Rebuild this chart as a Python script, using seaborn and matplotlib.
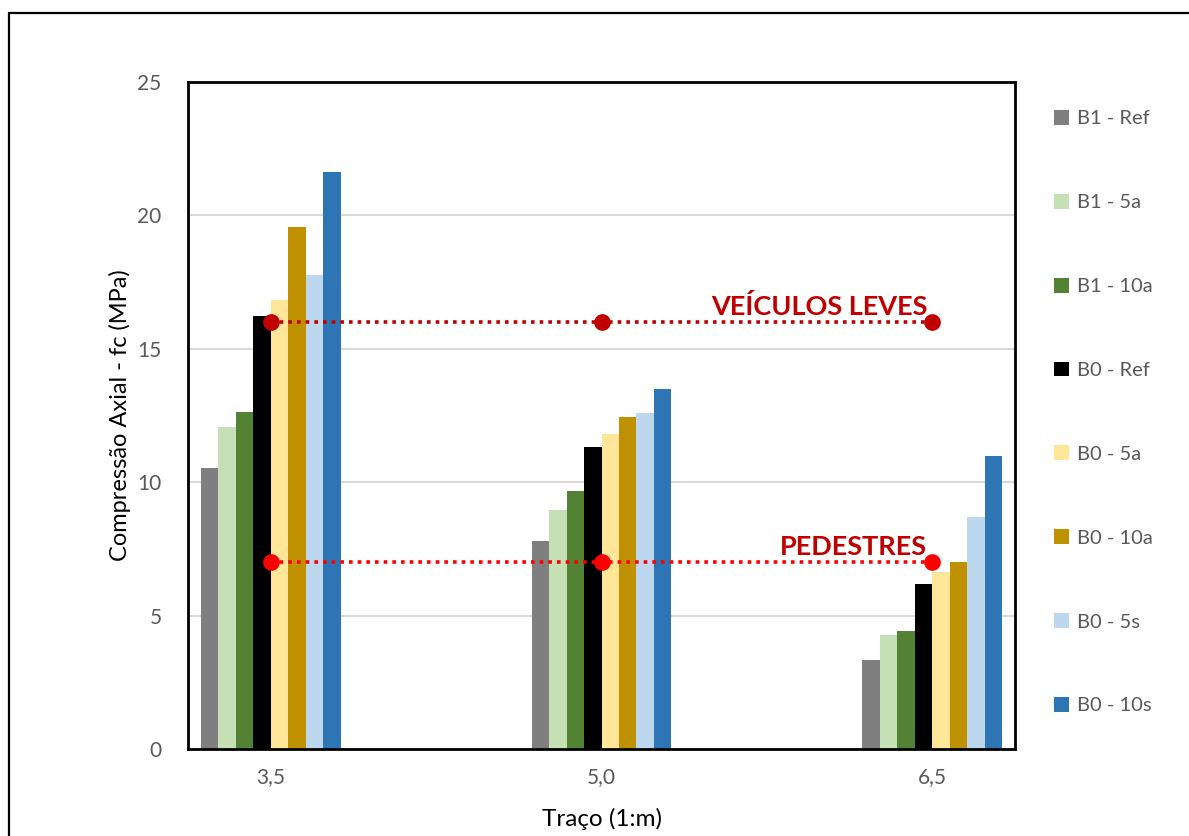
import matplotlib
matplotlib.use("Agg")
import matplotlib.pyplot as plt
from matplotlib.lines import Line2D
import seaborn as sns
import pandas as pd

# Mix proportions (x categories) and series
tracos = ["3,5", "5,0", "6,5"]
series = ["B1 - Ref", "B1 - 5a", "B1 - 10a", "B0 - Ref",
          "B0 - 5a", "B0 - 10a", "B0 - 5s", "B0 - 10s"]
colors = ["#7F7F7F", "#C5E0B4", "#548235", "#000000",
          "#FFE699", "#BF9000", "#BDD7EE", "#2E75B6"]

# Axial compression strength fc (MPa) per series, for traço 3,5 / 5,0 / 6,5
b1_ref = [10.55, 7.80, 3.35]
b1_5a = [12.08, 8.96, 4.28]
b1_10a = [12.62, 9.68, 4.42]
b0_ref = [16.22, 11.33, 6.20]
b0_5a = [16.82, 11.79, 6.64]
b0_10a = [19.56, 12.44, 7.00]
b0_5s = [17.76, 12.60, 8.70]
b0_10s = [21.63, 13.49, 11.00]

# Minimum strength requirements
limite_veiculos = [16.0, 16.0, 16.0]
limite_pedestres = [7.0, 7.0, 7.0]

values = [b1_ref, b1_5a, b1_10a, b0_ref, b0_5a, b0_10a, b0_5s, b0_10s]
rows = []
for name, vals in zip(series, values):
    for t, v in zip(tracos, vals):
        rows.append({"Traço": t, "Série": name, "fc": v})
df = pd.DataFrame(rows)

sns.set_theme(style="white")
font = ["Lato", "DejaVu Sans"]
plt.rcParams["font.family"] = font

fig = plt.figure(figsize=(11.89, 8.36), dpi=100)
ax = fig.add_axes([188 / 1189, 1 - 749 / 836, (1015 - 188) / 1189, (749 - 82) / 836])

sns.barplot(data=df, x="Traço", y="fc", hue="Série", order=tracos,
            hue_order=series, palette=colors, width=0.423, saturation=1,
            linewidth=0, ax=ax, zorder=2)

handles, labels = ax.get_legend_handles_labels()
if ax.get_legend() is not None:
    ax.get_legend().remove()

# Requirement lines
xpos = list(range(len(tracos)))
ax.plot(xpos, limite_veiculos, color="#C00000", linestyle=(0, (1, 1.4)),
        linewidth=2.6, marker="o", markersize=11, zorder=4)
ax.plot(xpos, limite_pedestres, color="#FF0000", linestyle=(0, (1, 1.4)),
        linewidth=2.6, marker="o", markersize=11, zorder=4)
ax.text(1.985, 16.12, "VEÍCULOS LEVES", color="#C00000", fontsize=19.5,
        fontweight="bold", ha="right", va="bottom", zorder=5)
ax.text(1.985, 7.12, "PEDESTRES", color="#C00000", fontsize=19.5,
        fontweight="bold", ha="right", va="bottom", zorder=5)

ax.set_xlim(-0.25, 2.25)
ax.set_ylim(0, 25)
ax.set_yticks([0, 5, 10, 15, 20, 25])
ax.yaxis.grid(True, color="#D9D9D9", linewidth=1.5, zorder=0)
ax.xaxis.grid(False)
ax.set_axisbelow(True)
for s in ax.spines.values():
    s.set_visible(True)
    s.set_color("black")
    s.set_linewidth(2)

ax.tick_params(axis="y", length=0, pad=19, labelsize=15, labelcolor="#595959")
ax.tick_params(axis="x", length=0, pad=13, labelsize=15, labelcolor="#595959")
ax.set_xlabel("Traço (1:m)", fontsize=17.5, color="black", labelpad=15)
ax.set_ylabel("Compressão Axial - fc (MPa)", fontsize=17, color="black", labelpad=4.5)

fig.legend(handles, labels, loc="upper left", bbox_to_anchor=(1046 / 1189, 1 - 102 / 836),
           frameon=False, fontsize=14.5, labelcolor="#595959", handlelength=0.75,
           handleheight=0.75, handletextpad=0.4, labelspacing=3.3, borderaxespad=0)

# Outer frame (left and top edges)
fig.add_artist(Line2D([9 / 1189, 9 / 1189], [0, 1 - 13 / 836], color="black",
                      linewidth=1.6, transform=fig.transFigure))
fig.add_artist(Line2D([9 / 1189, 1], [1 - 13 / 836, 1 - 13 / 836], color="black",
                      linewidth=1.6, transform=fig.transFigure))

fig.savefig("out.png", dpi=100, facecolor="white")
